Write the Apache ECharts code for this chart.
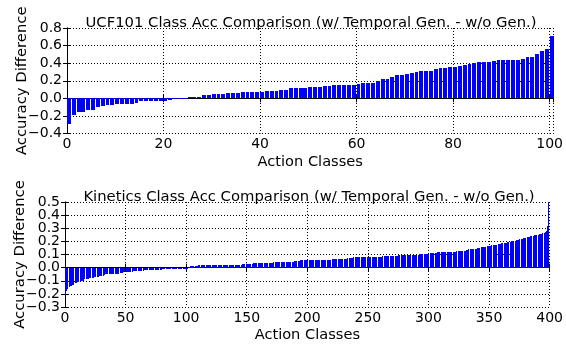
<!DOCTYPE html>
<html>
<head>
<meta charset="utf-8">
<script src="https://cdn.jsdelivr.net/npm/echarts@6/dist/echarts.min.js"></script>
<style>
  html, body {margin: 0; background: #fff;}
  #chart {width: 566px; height: 344px;}
</style>
</head>
<body>
<div id="chart"></div>
<script>
// UCF101: 101 classes, sorted accuracy difference
const ucfDiff = [
  -0.29, -0.195, -0.16, -0.16, -0.133, -0.133, -0.1, -0.083, -0.076, -0.076,
  -0.068, -0.068, -0.068, -0.068, -0.057, -0.035, -0.035, -0.035, -0.035, -0.035,
  -0.035, -0.02, -0.01, -0.005, -0.005, 0.01, 0.02, 0.02, 0.035, 0.035,
  0.045, 0.045, 0.045, 0.055, 0.055, 0.055, 0.07, 0.07, 0.07, 0.07,
  0.07, 0.085, 0.085, 0.085, 0.095, 0.095, 0.115, 0.115, 0.115, 0.115,
  0.13, 0.13, 0.13, 0.137, 0.137, 0.148, 0.148, 0.148, 0.148, 0.148,
  0.16, 0.18, 0.18, 0.18, 0.195, 0.215, 0.225, 0.24, 0.26, 0.265,
  0.275, 0.285, 0.295, 0.31, 0.31, 0.31, 0.33, 0.34, 0.34, 0.353,
  0.353, 0.365, 0.375, 0.387, 0.4, 0.41, 0.41, 0.41, 0.42, 0.433,
  0.433, 0.433, 0.433, 0.433, 0.45, 0.467, 0.467, 0.5, 0.535, 0.565,
  0.71
];

// Kinetics: 400 classes, sorted accuracy difference
const kineticsDiff = [
  -0.21, -0.18, -0.16, -0.15, -0.14, -0.14, -0.13, -0.13, -0.12, -0.12,
  -0.11, -0.11, -0.10, -0.10, -0.10, -0.10, -0.09, -0.09, -0.09, -0.09,
  -0.08, -0.08, -0.08, -0.08, -0.07, -0.07, -0.07, -0.07, -0.06, -0.06,
  -0.06, -0.06, -0.055, -0.05, -0.05, -0.05, -0.05, -0.05, -0.05, -0.045,
  -0.045, -0.045, -0.045, -0.045, -0.045, -0.04, -0.04, -0.04, -0.035, -0.035,
  -0.035, -0.035, -0.03, -0.03, -0.03, -0.03, -0.028, -0.028, -0.025, -0.025,
  -0.025, -0.022, -0.022, -0.022, -0.022, -0.02, -0.02, -0.02, -0.02, -0.02,
  -0.018, -0.018, -0.018, -0.018, -0.018, -0.016, -0.016, -0.016, -0.015, -0.015,
  -0.013, -0.013, -0.013, -0.012, -0.012, -0.01, -0.01, -0.01, -0.01, -0.01,
  -0.008, -0.008, -0.008, -0.007, -0.007, -0.006, -0.006, -0.005, -0.005, -0.004,
  -0.002, 0, 0.005, 0.01, 0.01, 0.01, 0.015, 0.015, 0.015, 0.015,
  0.018, 0.018, 0.018, 0.018, 0.018, 0.018, 0.018, 0.018, 0.018, 0.018,
  0.02, 0.02, 0.02, 0.02, 0.02, 0.02, 0.02, 0.02, 0.02, 0.02,
  0.02, 0.02, 0.02, 0.02, 0.02, 0.02, 0.02, 0.02, 0.02, 0.02,
  0.02, 0.02, 0.02, 0.02, 0.02, 0.02, 0.025, 0.025, 0.025, 0.025,
  0.03, 0.03, 0.03, 0.03, 0.03, 0.035, 0.035, 0.035, 0.035, 0.035,
  0.035, 0.035, 0.035, 0.035, 0.035, 0.035, 0.035, 0.035, 0.035, 0.035,
  0.035, 0.035, 0.04, 0.045, 0.045, 0.045, 0.045, 0.045, 0.045, 0.045,
  0.045, 0.045, 0.045, 0.045, 0.045, 0.045, 0.045, 0.045, 0.045, 0.05,
  0.05, 0.052, 0.052, 0.052, 0.055, 0.055, 0.055, 0.055, 0.055, 0.058,
  0.06, 0.06, 0.06, 0.06, 0.06, 0.06, 0.06, 0.06, 0.06, 0.06,
  0.06, 0.06, 0.06, 0.06, 0.06, 0.06, 0.06, 0.06, 0.06, 0.06,
  0.065, 0.065, 0.065, 0.065, 0.065, 0.065, 0.065, 0.065, 0.065, 0.065,
  0.068, 0.068, 0.068, 0.07, 0.07, 0.07, 0.07, 0.075, 0.078, 0.078,
  0.078, 0.078, 0.078, 0.08, 0.08, 0.08, 0.08, 0.082, 0.082, 0.082,
  0.082, 0.082, 0.082, 0.082, 0.082, 0.082, 0.082, 0.082, 0.082, 0.082,
  0.082, 0.082, 0.085, 0.085, 0.088, 0.088, 0.09, 0.09, 0.09, 0.09,
  0.09, 0.09, 0.092, 0.092, 0.092, 0.095, 0.095, 0.095, 0.095, 0.095,
  0.097, 0.097, 0.097, 0.097, 0.097, 0.097, 0.1, 0.1, 0.1, 0.1,
  0.1, 0.1, 0.103, 0.103, 0.103, 0.105, 0.105, 0.105, 0.105, 0.105,
  0.105, 0.108, 0.11, 0.11, 0.112, 0.115, 0.115, 0.117, 0.117, 0.117,
  0.117, 0.117, 0.117, 0.117, 0.117, 0.117, 0.12, 0.12, 0.12, 0.12,
  0.12, 0.122, 0.122, 0.125, 0.125, 0.127, 0.127, 0.128, 0.13, 0.13,
  0.13, 0.132, 0.135, 0.14, 0.14, 0.142, 0.142, 0.142, 0.145, 0.145,
  0.148, 0.15, 0.152, 0.155, 0.157, 0.158, 0.16, 0.16, 0.162, 0.165,
  0.167, 0.168, 0.17, 0.172, 0.173, 0.175, 0.175, 0.178, 0.18, 0.182,
  0.185, 0.187, 0.188, 0.19, 0.19, 0.193, 0.195, 0.197, 0.2, 0.2,
  0.202, 0.205, 0.208, 0.21, 0.213, 0.215, 0.218, 0.22, 0.223, 0.225,
  0.228, 0.23, 0.232, 0.235, 0.238, 0.24, 0.243, 0.245, 0.248, 0.25,
  0.252, 0.255, 0.258, 0.26, 0.263, 0.267, 0.27, 0.28, 0.32, 0.5
];

const ucfTitle = 'UCF101 Class Acc Comparison (w/ Temporal Gen. - w/o Gen.)';
const kineticsTitle = 'Kinetics Class Acc Comparison (w/ Temporal Gen. - w/o Gen.)';
const ucfXRange = [0, 100.8, 20];
const ucfYRange = [-4, 8, 2];     // in tenths
const kinXRange = [0, 400, 50];
const kinYRange = [-3, 5, 1];     // in tenths

const FONT = 'DejaVu Sans';
const BAR_W = 0.8;

const chart = echarts.init(document.getElementById('chart'), null, {renderer: 'canvas'});

// bars snapped to whole pixels, like the original raster
function barItem(params, api) {
  const i = api.value(0);
  const v = api.value(1) * 10;
  const a = api.coord([i, Math.max(v, 0)]);
  const b = api.coord([i + BAR_W, Math.min(v, 0)]);
  const x0 = Math.round(a[0]);
  const x1 = Math.max(x0 + 1, Math.round(b[0]));
  const y0 = Math.round(a[1]);
  const y1 = Math.round(b[1]);
  return {
    type: 'rect',
    shape: {x: x0, y: y0, width: x1 - x0, height: Math.max(1, y1 - y0)},
    style: {fill: '#0000ff'}
  };
}

const yLabel = v => (v < 0 ? '\u2212' : '') + (Math.abs(v) / 10).toFixed(1);

function xAxes(grid, range) {
  const base = {
    type: 'value', gridIndex: grid, min: range[0], max: range[1], interval: range[2],
    axisLine: {lineStyle: {color: '#000', width: 1}},
    axisTick: {inside: true, length: 4, lineStyle: {color: '#000'}},
  };
  return [
    Object.assign({}, base, {
      position: 'bottom',
      name: 'Action Classes', nameLocation: 'middle', nameGap: 21,
      nameTextStyle: {fontFamily: FONT, fontSize: 14.6, color: '#000'},
      axisLabel: {
        fontFamily: FONT, fontSize: 14, color: '#000', margin: 4,
        showMaxLabel: range[1] % range[2] === 0,
        formatter: v => (Math.abs(v / range[2] - Math.round(v / range[2])) < 1e-6 ? String(Math.round(v)) : '')
      },
      splitLine: {show: true, lineStyle: {color: '#000', type: [1, 2], width: 1}}
    }),
    Object.assign({}, base, {
      position: 'top', axisLabel: {show: false}, splitLine: {show: false}
    })
  ];
}

// keep = which ticks (by parity of tenths) the main axis labels; the extra
// axis labels the rest so close labels are not dropped by overlap hiding
function yAxes(grid, range, split) {
  const base = {
    type: 'value', gridIndex: grid, min: range[0], max: range[1], interval: range[2],
    axisLine: {show: true, lineStyle: {color: '#000', width: 1}},
    axisTick: {show: true, inside: true, length: 4, lineStyle: {color: '#000'}},
  };
  const labelStyle = {fontFamily: FONT, fontSize: 14, color: '#000', margin: 5,
                      showMinLabel: true, showMaxLabel: true};
  const pick = odd => v => (!split || Math.abs(Math.round(v)) % 2 === (odd ? 1 : 0)) ? yLabel(v) : '';
  const axes = [
    Object.assign({}, base, {
      position: 'left',
      name: 'Accuracy Difference', nameLocation: 'middle', nameGap: 37,
      nameMoveOverlap: false,
      nameTextStyle: {fontFamily: FONT, fontSize: 14.8, color: '#000'},
      axisLabel: Object.assign({}, labelStyle, {formatter: pick(true)}),
      splitLine: {show: true, lineStyle: {color: '#000', type: [1, 2], width: 1}}
    }),
    Object.assign({}, base, {
      position: 'right', axisLabel: {show: false}, splitLine: {show: false}
    })
  ];
  if (split) {
    axes.push(Object.assign({}, base, {
      position: 'left', offset: 0,
      axisLine: {show: false}, axisTick: {show: false}, splitLine: {show: false},
      axisLabel: Object.assign({}, labelStyle, {formatter: pick(false)})
    }));
  }
  return axes;
}

chart.setOption({
  animation: false,
  backgroundColor: '#fff',
  title: [
    {text: ucfTitle, left: 306, top: 11, textAlign: 'center',
     textStyle: {fontFamily: FONT, fontSize: 14.8, fontWeight: 'normal', color: '#000'}},
    {text: kineticsTitle, left: 304, top: 185, textAlign: 'center',
     textStyle: {fontFamily: FONT, fontSize: 14.8, fontWeight: 'normal', color: '#000'}}
  ],
  grid: [
    {left: 67, top: 28, width: 488, height: 105.5},
    {left: 65, top: 202, width: 488, height: 105}
  ],
  xAxis: [...xAxes(0, ucfXRange), ...xAxes(1, kinXRange)],
  yAxis: [...yAxes(0, ucfYRange, false), ...yAxes(1, kinYRange, true)],
  series: [
    {
      type: 'custom', xAxisIndex: 0, yAxisIndex: 0, clip: true,
      renderItem: barItem,
      data: ucfDiff.map((v, i) => [i, v])
    },
    {
      type: 'custom', xAxisIndex: 2, yAxisIndex: 2, clip: true,
      renderItem: barItem,
      data: kineticsDiff.map((v, i) => [i, v])
    }
  ]
});
</script>
</body>
</html>
